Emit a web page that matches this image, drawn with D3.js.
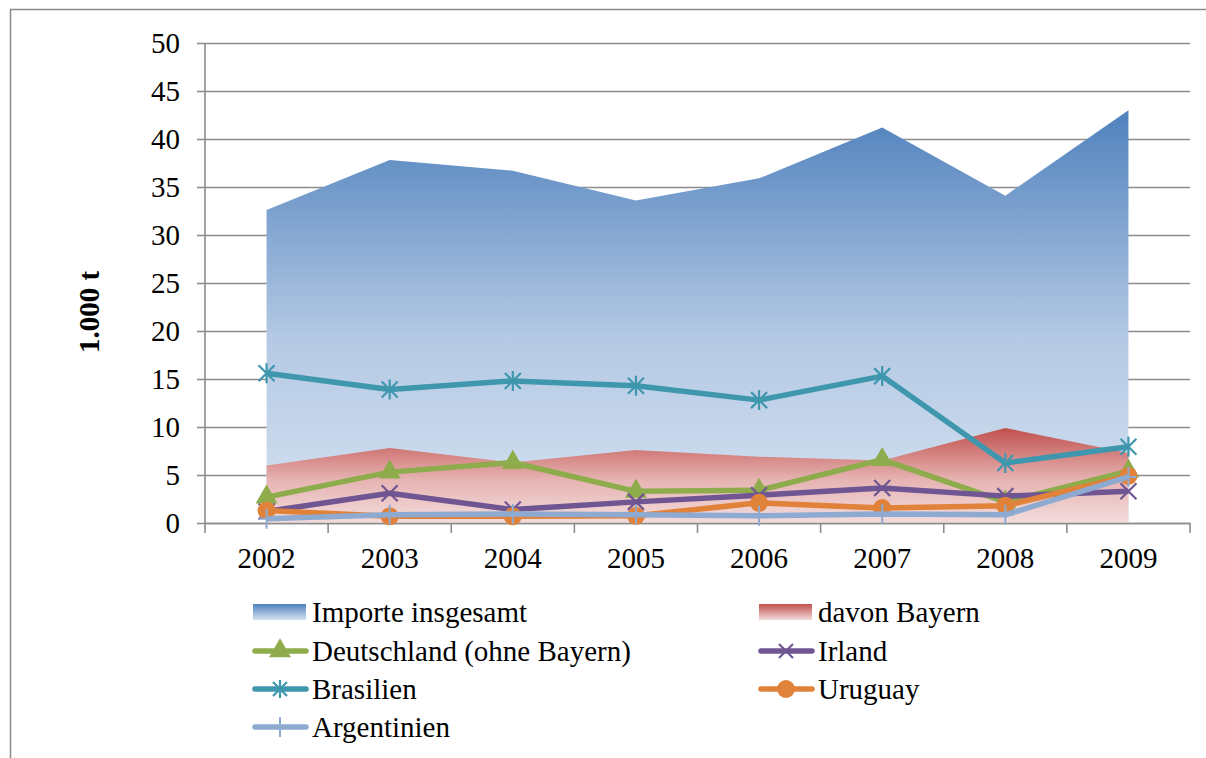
<!DOCTYPE html>
<html>
<head>
<meta charset="utf-8">
<script src="https://cdn.jsdelivr.net/npm/d3@7"></script>
<style>
  html, body { margin: 0; padding: 0; background: #fff; }
  svg text { font-family: "Liberation Serif", "Times New Roman", "DejaVu Serif", serif; }
</style>
</head>
<body>
<svg id="chart" width="1206" height="758"></svg>
<script>
// Jahre
const years = ["2002", "2003", "2004", "2005", "2006", "2007", "2008", "2009"];

// Flächen (1.000 t)
const importeInsgesamt = [32.6, 37.8, 36.7, 33.6, 35.9, 41.2, 34.1, 43.0];
const davonBayern      = [6.0, 7.8, 6.3, 7.6, 6.9, 6.5, 9.9, 7.3];

// Herkunftsländer (1.000 t)
const deutschland = [2.7, 5.3, 6.3, 3.3, 3.4, 6.6, 2.2, 5.4];
const irland      = [1.2, 3.1, 1.4, 2.2, 2.9, 3.65, 2.8, 3.3];
const brasilien   = [15.6, 13.9, 14.8, 14.3, 12.8, 15.3, 6.25, 7.95];
const uruguay     = [1.3, 0.7, 0.7, 0.75, 2.1, 1.55, 1.8, 4.9];
const argentinien = [0.45, 0.85, 0.95, 0.85, 0.75, 0.95, 0.85, 4.8];

// y-Achse
const yTicks = [0, 5, 10, 15, 20, 25, 30, 35, 40, 45, 50];

const svg = d3.select("#chart");
const W = 1206, H = 758;
const plot = { left: 205, right: 1190, top: 43, bottom: 523 };
const FONT = "'Liberation Serif', 'Times New Roman', 'DejaVu Serif', serif";
const FS = "29px";

// outer frame
svg.append("rect")
  .attr("x", 10.5).attr("y", 9.5)
  .attr("width", W + 20).attr("height", H + 20)
  .attr("fill", "none").attr("stroke", "#8c8c8c").attr("stroke-width", 1.5);

const x = d3.scaleBand().domain(years).range([plot.left, plot.right]).padding(0);
const cx = d => x(d) + x.bandwidth() / 2;
const y = d3.scaleLinear().domain([0, 50]).range([plot.bottom, plot.top]);

// gradients
const defs = svg.append("defs");
function vGrad(id, stops) {
  const g = defs.append("linearGradient").attr("id", id)
    .attr("x1", 0).attr("y1", 0).attr("x2", 0).attr("y2", 1);
  stops.forEach(([o, c]) => g.append("stop").attr("offset", o).attr("stop-color", c));
}
vGrad("gBlue", [["0%", "#4f81bd"], ["55%", "#b4c9e4"], ["100%", "#d6e2f1"]]);
vGrad("gRed", [["0%", "#c0504d"], ["55%", "#e6b4b3"], ["100%", "#f3dcdc"]]);

// gridlines + y axis
const yAxis = d3.axisLeft(y).tickValues(yTicks).tickSize(plot.right - plot.left + 8).tickPadding(17);
const gy = svg.append("g").attr("transform", `translate(${plot.right},0)`).call(yAxis);
gy.attr("font-family", null).attr("font-size", null);
gy.select(".domain").remove();
gy.selectAll(".tick line").attr("stroke", "#8c8c8c").attr("stroke-width", 1.6);
gy.selectAll(".tick text").attr("fill", "#000").attr("dy", "0.34em")
  .style("font-family", FONT).style("font-size", FS);

// areas
const area = d3.area().x((d, i) => cx(years[i])).y0(y(0)).y1(d => y(d));
svg.append("path").datum(importeInsgesamt).attr("d", area).attr("fill", "url(#gBlue)");
svg.append("path").datum(davonBayern).attr("d", area).attr("fill", "url(#gRed)");

// axis lines
svg.append("line").attr("x1", plot.left).attr("x2", plot.left)
  .attr("y1", plot.top).attr("y2", plot.bottom)
  .attr("stroke", "#8c8c8c").attr("stroke-width", 1.6);

const xAxis = d3.axisBottom(x).tickSize(0).tickPadding(24);
const gx = svg.append("g").attr("transform", `translate(0,${plot.bottom})`).call(xAxis);
gx.attr("font-family", null).attr("font-size", null);
gx.select(".domain").attr("stroke", "#8c8c8c").attr("stroke-width", 1.6);
gx.selectAll(".tick text").attr("fill", "#000")
  .style("font-family", FONT).style("font-size", FS);
// category boundary ticks
const bounds = years.map(d => x(d)).concat([plot.right]);
svg.append("g").selectAll("line").data(bounds).join("line")
  .attr("x1", d => d).attr("x2", d => d)
  .attr("y1", plot.bottom).attr("y2", plot.bottom + 10)
  .attr("stroke", "#8c8c8c").attr("stroke-width", 1.6);

// y-axis title
svg.append("text")
  .attr("transform", `translate(99,312) rotate(-90)`)
  .attr("text-anchor", "middle").attr("font-weight", "bold")
  .style("font-family", FONT).style("font-size", FS)
  .text("1.000 t");

// marker drawing
function marker(g, type, color, s) {
  s = s || 8;
  if (type === "triangle") {
    g.append("path").attr("d", d3.symbol().type(d3.symbolTriangle).size(210)())
      .attr("fill", color);
  } else if (type === "circle") {
    g.append("circle").attr("r", 9).attr("fill", color);
  } else if (type === "x") {
    g.append("path").attr("d", `M${-s},${-s}L${s},${s}M${-s},${s}L${s},${-s}`)
      .attr("stroke", color).attr("stroke-width", 2.2).attr("fill", "none");
  } else if (type === "star") {
    g.append("path").attr("d", `M${-s},${-s}L${s},${s}M${-s},${s}L${s},${-s}M0,${-s - 2}L0,${s + 2}`)
      .attr("stroke", color).attr("stroke-width", 2.2).attr("fill", "none");
  } else if (type === "plus") {
    g.append("path").attr("d", `M0,${-10}L0,${10}M-8,0L8,0`)
      .attr("stroke", color).attr("stroke-width", 2).attr("fill", "none");
  }
}

const series = [
  { name: "Deutschland (ohne Bayern)", values: deutschland, color: "#8eac4c", marker: "triangle" },
  { name: "Irland", values: irland, color: "#6f5591", marker: "x" },
  { name: "Brasilien", values: brasilien, color: "#3f97ae", marker: "star" },
  { name: "Uruguay", values: uruguay, color: "#e0823a", marker: "circle" },
  { name: "Argentinien", values: argentinien, color: "#8eaad1", marker: "plus" }
];

const line = d3.line().x((d, i) => cx(years[i])).y(d => y(d));
series.forEach(s => {
  const g = svg.append("g");
  g.append("path").datum(s.values).attr("d", line)
    .attr("fill", "none").attr("stroke", s.color).attr("stroke-width", 5.5)
    .attr("stroke-linejoin", "round");
  s.values.forEach((v, i) => {
    const m = g.append("g").attr("transform", `translate(${cx(years[i])},${y(v)})`);
    marker(m, s.marker, s.color);
  });
});

// legend
vGrad("gBlueL", [["0%", "#4f81bd"], ["100%", "#d6e2f1"]]);
vGrad("gRedL", [["0%", "#c0504d"], ["100%", "#f3dcdc"]]);
const legendItems = [
  { name: "Importe insgesamt", kind: "area", fill: "url(#gBlueL)", col: 0, row: 0 },
  { name: "davon Bayern", kind: "area", fill: "url(#gRedL)", col: 1, row: 0 },
  { name: "Deutschland (ohne Bayern)", kind: "line", s: series[0], col: 0, row: 1 },
  { name: "Irland", kind: "line", s: series[1], col: 1, row: 1 },
  { name: "Brasilien", kind: "line", s: series[2], col: 0, row: 2 },
  { name: "Uruguay", kind: "line", s: series[3], col: 1, row: 2 },
  { name: "Argentinien", kind: "line", s: series[4], col: 0, row: 3 }
];

const colX = [253, 759];
const rowY = [612, 651, 689, 727];
legendItems.forEach(it => {
  const g = svg.append("g").attr("transform", `translate(${colX[it.col]},${rowY[it.row]})`);
  if (it.kind === "area") {
    g.append("rect").attr("x", 0).attr("y", -8).attr("width", 53).attr("height", 16)
      .attr("fill", it.fill);
  } else {
    g.append("line").attr("x1", 2).attr("x2", 53).attr("y1", 0).attr("y2", 0)
      .attr("stroke", it.s.color).attr("stroke-width", 5.5).attr("stroke-linecap", "round");
    const m = g.append("g").attr("transform", "translate(27,0)");
    marker(m, it.s.marker, it.s.color, 7);
  }
  g.append("text").attr("x", 59).attr("y", 10)
    .attr("fill", "#000")
    .style("font-family", FONT).style("font-size", FS)
    .text(it.name);
});
</script>
</body>
</html>
